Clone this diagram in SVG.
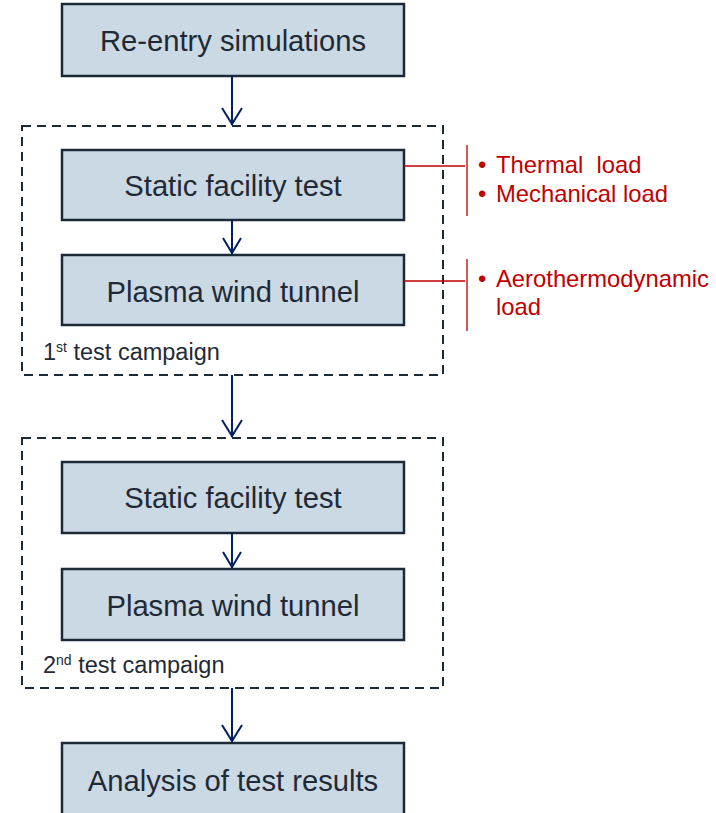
<svg xmlns="http://www.w3.org/2000/svg" width="716" height="813" viewBox="0 0 716 813">
<style>
.box{fill:#cbd9e5;stroke:#1c2a38;stroke-width:2.5}
.bt{font-family:"Liberation Sans",Arial,sans-serif;font-size:29.2px;fill:#1f2a36;text-anchor:middle}
.grp{fill:none;stroke:#1c2a38;stroke-width:2;stroke-dasharray:9,6}
.gl{font-family:"Liberation Sans",Arial,sans-serif;font-size:23.5px;fill:#1f2a36}
.arr{stroke:#002060;stroke-width:2;fill:none}
.red{stroke:#c00000;stroke-width:1.3;fill:none}
.rt{font-family:"Liberation Sans",Arial,sans-serif;font-size:23.8px;fill:#c00000;white-space:pre}
</style>
<rect width="716" height="813" fill="#ffffff"/>
<g id="campaign1"><rect class="grp" x="22" y="126" width="421" height="249"/><text class="gl" x="43" y="360">1<tspan font-size="14" dy="-8">st</tspan><tspan dy="8"> test campaign</tspan></text></g>
<g id="campaign2"><rect class="grp" x="22" y="438" width="421" height="250"/><text class="gl" x="43" y="673">2<tspan font-size="14" dy="-8">nd</tspan><tspan dy="8"> test campaign</tspan></text></g>
<g id="reentry"><rect class="box" x="62" y="4" width="342" height="72"/><text class="bt" x="233" y="51">Re-entry simulations</text></g>
<g id="static1"><rect class="box" x="62" y="150" width="342" height="70"/><text class="bt" x="233" y="196">Static facility test</text></g>
<g id="plasma1"><rect class="box" x="62" y="255" width="342" height="70"/><text class="bt" x="233" y="302">Plasma wind tunnel</text></g>
<g id="static2"><rect class="box" x="62" y="462" width="342" height="71"/><text class="bt" x="233" y="508">Static facility test</text></g>
<g id="plasma2"><rect class="box" x="62" y="569" width="342" height="71"/><text class="bt" x="233" y="616">Plasma wind tunnel</text></g>
<g id="analysis"><rect class="box" x="62" y="743" width="342" height="80"/><text class="bt" x="233" y="791">Analysis of test results</text></g>
<g id="connectors">
<path class="arr" d="M232 76V125M222 108L232 124L242 108"/>
<path class="arr" d="M232 220V254M223 238L232 253L241 238"/>
<path class="arr" d="M232 375V437M222 420L232 436L242 420"/>
<path class="arr" d="M232 533V568M223 552L232 567L241 552"/>
<path class="arr" d="M232 688V742M222 725L232 741L242 725"/>
<path class="red" d="M404 166H465M467 145V216"/>
<path class="red" d="M404 281H465M467 259V331"/>
</g>
<g id="notes">
<text class="rt" x="478" y="173">•</text><text class="rt" x="496" y="173" xml:space="preserve">Thermal  load</text>
<text class="rt" x="478" y="202">•</text><text class="rt" x="496" y="202">Mechanical load</text>
<text class="rt" x="478" y="287">•</text><text class="rt" x="496" y="287">Aerothermodynamic</text>
<text class="rt" x="496" y="315">load</text>
</g>
</svg>
